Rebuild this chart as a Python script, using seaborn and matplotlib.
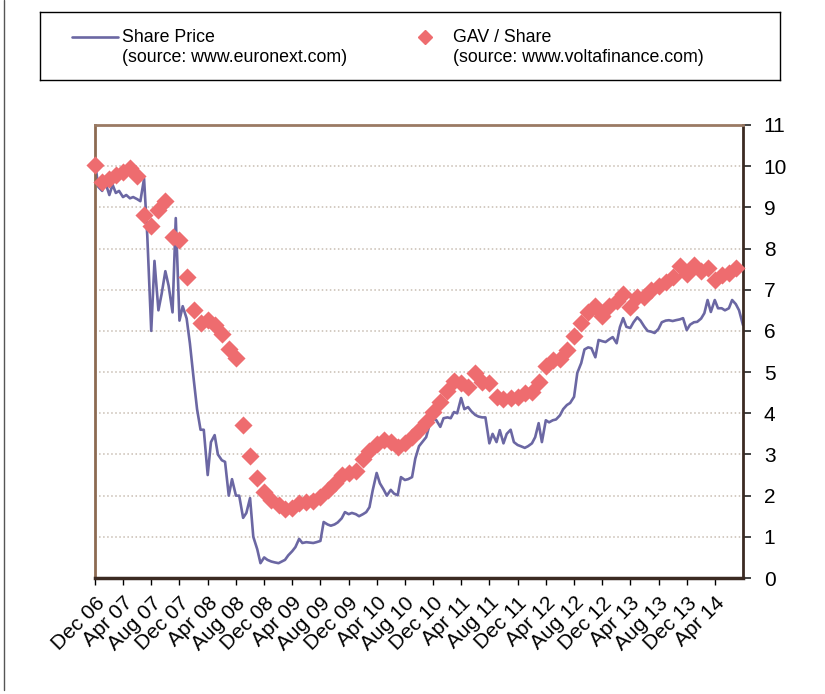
import pandas as pd
import matplotlib.pyplot as plt
import matplotlib.dates as mdates
from matplotlib.lines import Line2D
import seaborn as sns

sns.set_theme(style="white")
plt.rcParams['font.family'] = ['Liberation Sans', 'DejaVu Sans']
plt.rcParams['text.color'] = 'black'

share_price = [
    10.1, 9.5, 9.4, 9.6, 9.3, 9.55, 9.35, 9.4, 9.25, 9.3, 9.22, 9.25, 9.2, 9.15,
    9.7, 8.3, 6.0, 7.7, 6.5, 6.9, 7.45, 7.1, 6.45, 8.74, 6.25, 6.6, 6.3, 5.7,
    4.8, 4.1, 3.6, 3.6, 2.5, 3.3, 3.47, 3.0, 2.86, 2.82, 2.0, 2.4, 2.0, 2.0,
    1.46, 1.58, 1.94, 1.0, 0.7, 0.36, 0.5, 0.44, 0.4, 0.38, 0.36, 0.4, 0.44, 0.55,
    0.65, 0.75, 0.95, 0.85, 0.87, 0.86, 0.85, 0.87, 0.9, 1.36, 1.3, 1.27, 1.3, 1.35,
    1.45, 1.6, 1.55, 1.58, 1.55, 1.5, 1.55, 1.6, 1.72, 2.13, 2.55, 2.3, 2.15, 2.0,
    2.14, 2.05, 2.01, 2.45, 2.38, 2.4, 2.45, 2.9, 3.2, 3.3, 3.42, 3.71, 3.88, 3.83,
    3.67, 3.88, 3.9, 3.88, 4.03, 4.0, 4.37, 4.1, 4.15, 4.05, 3.96, 3.92, 3.9, 3.9,
    3.27, 3.5, 3.3, 3.59, 3.27, 3.5, 3.6, 3.3, 3.23, 3.2, 3.16, 3.2, 3.27, 3.42,
    3.76, 3.3, 3.83, 3.78, 3.83, 3.85, 3.95, 4.1, 4.2, 4.25, 4.4, 4.98, 5.22, 5.55,
    5.6, 5.58, 5.36, 5.78, 5.75, 5.73, 5.8, 5.85, 5.7, 6.09, 6.31, 6.1, 6.07, 6.21,
    6.33, 6.25, 6.1, 6.0, 5.98, 5.95, 6.05, 6.21, 6.25, 6.26, 6.24, 6.26, 6.28, 6.31,
    6.02, 6.15, 6.21, 6.22, 6.3, 6.43, 6.75, 6.46, 6.75, 6.55, 6.55, 6.5, 6.55, 6.75,
    6.65, 6.5, 6.14,
]

# GAV per share, monthly from Dec 06
gav_share = [
    10.02, 9.62, 9.7, 9.78, 9.85, 9.95, 9.76, 8.81, 8.54, 8.93, 9.15, 8.28, 8.2, 7.3,
    6.5, 6.2, 6.26, 6.14, 5.92, 5.56, 5.34, 3.71, 2.96, 2.43, 2.09, 1.89, 1.77, 1.67,
    1.7, 1.82, 1.84, 1.87, 1.97, 2.14, 2.3, 2.5, 2.55, 2.6, 2.89, 3.08, 3.25, 3.35,
    3.3, 3.18, 3.28, 3.42, 3.59, 3.79, 4.03, 4.27, 4.54, 4.78, 4.73, 4.64, 4.98, 4.76,
    4.73, 4.39, 4.34, 4.37, 4.39, 4.49, 4.51, 4.76, 5.15, 5.3, 5.32, 5.53, 5.88, 6.2,
    6.45, 6.6, 6.36, 6.6, 6.72, 6.89, 6.58, 6.82, 6.82, 6.99, 7.09, 7.18, 7.31, 7.57,
    7.38, 7.6, 7.45, 7.52, 7.23, 7.35, 7.4, 7.52,
]

price_df = pd.DataFrame({
    'date': pd.date_range('2006-12-01', periods=len(share_price), freq='SMS'),
    'value': share_price,
})
gav_df = pd.DataFrame({
    'date': pd.date_range('2006-12-01', periods=len(gav_share), freq='MS'),
    'value': gav_share,
})

line_color = '#6b67a3'
gav_color = '#ee6c6f'

fig = plt.figure(figsize=(8.25, 6.94), dpi=100)
ax = fig.add_axes([95 / 825, 1 - 578 / 694, 648 / 825, 453 / 694])

sns.lineplot(data=price_df, x='date', y='value', ax=ax, color=line_color, linewidth=1.9)
sns.scatterplot(data=gav_df, x='date', y='value', ax=ax, color=gav_color, marker='D',
                s=85, linewidth=0, zorder=3, clip_on=False)

ax.set_xlim(pd.Timestamp('2006-12-01'), pd.Timestamp('2014-08-01'))
ax.set_ylim(0, 11)
ax.set_yticks(range(0, 12))
ax.yaxis.tick_right()
ax.set_xlabel('')
ax.set_ylabel('')

ticks = pd.date_range('2006-12-01', '2014-04-01', freq='4MS')
ax.set_xticks(ticks)
ax.xaxis.set_major_formatter(mdates.DateFormatter('%b %y'))
ax.tick_params(axis='x', direction='out', length=5, width=1, color='black',
               labelsize=15, labelcolor='black', pad=6, bottom=True)
ax.tick_params(axis='y', direction='out', length=6, width=1.2, color='#222222',
               labelsize=15, labelcolor='black', pad=9, right=True, left=False)
for lab in ax.get_xticklabels():
    lab.set_rotation(45)
    lab.set_ha('right')
    lab.set_va('top')
    lab.set_rotation_mode('anchor')

ax.yaxis.grid(True, linestyle=':', color='#c8bdb2', linewidth=1.1)
ax.xaxis.grid(False)

ax.spines['left'].set_color('#8c6a52')
ax.spines['left'].set_linewidth(2)
ax.spines['top'].set_color('#9a7a64')
ax.spines['top'].set_linewidth(2)
ax.spines['right'].set_color('#3b2a22')
ax.spines['right'].set_linewidth(2)
ax.spines['bottom'].set_color('#3b2a22')
ax.spines['bottom'].set_linewidth(2.5)

# legend box drawn by hand
lax = fig.add_axes([40 / 825, 1 - 80 / 694, 740 / 825, 68 / 694])
lax.set_xlim(40, 780)
lax.set_ylim(80, 12)
lax.set_xticks([])
lax.set_yticks([])
for sp in lax.spines.values():
    sp.set_color('black')
    sp.set_linewidth(1)
lax.add_line(Line2D([72, 118], [37, 37], color=line_color, linewidth=1.9))
lax.plot([425], [37], marker='D', color=gav_color, markersize=7.5, linestyle='none')
lax.text(122, 37, 'Share Price', fontsize=12.8, va='center', ha='left')
lax.text(122, 58, '(source: www.euronext.com)', fontsize=12.8, va='center', ha='left')
lax.text(453, 37, 'GAV / Share', fontsize=12.8, va='center', ha='left')
lax.text(453, 58, '(source: www.voltafinance.com)', fontsize=12.8, va='center', ha='left')

# thin frame line on the left edge of the picture
fig.add_artist(Line2D([4 / 825, 4 / 825], [1 - 690 / 694, 1], color='#555555', linewidth=1))

fig.savefig('out.png', dpi=100)
